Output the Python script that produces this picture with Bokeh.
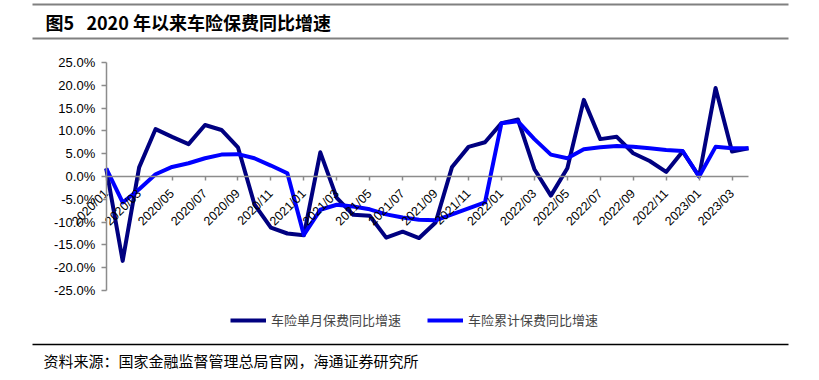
from bokeh.plotting import figure
from bokeh.models import (Range1d, FixedTicker, PrintfTickFormatter, Legend, LegendItem,
                          Label, Arrow)
from bokeh.embed import file_html
from bokeh.resources import INLINE
import math

# ---------------- data ----------------
months = ["2020/01", "2020/02", "2020/03", "2020/04", "2020/05", "2020/06", "2020/07", "2020/08",
          "2020/09", "2020/10", "2020/11", "2020/12", "2021/01", "2021/02", "2021/03", "2021/04",
          "2021/05", "2021/06", "2021/07", "2021/08", "2021/09", "2021/10", "2021/11", "2021/12",
          "2022/01", "2022/02", "2022/03", "2022/04", "2022/05", "2022/06", "2022/07", "2022/08",
          "2022/09", "2022/10", "2022/11", "2022/12", "2023/01", "2023/02", "2023/03", "2023/04"]

single = [1.8, -18.5, 2.0, 10.4, 8.7, 7.1, 11.3, 10.2, 6.4, -6.1, -11.2, -12.5, -12.9, 5.3,
          -4.7, -8.4, -8.6, -13.4, -12.1, -13.5, -10.1, 2.1, 6.5, 7.5, 11.7, 12.5, 1.6, -4.2,
          1.8, 16.8, 8.2, 8.7, 5.1, 3.4, 1.0, 5.5, 0.0, 19.4, 5.5, 6.2]

cumulative = [1.8, -5.7, -2.8, 0.5, 2.1, 2.9, 4.0, 4.8, 4.9, 4.0, 2.4, 0.7, -12.8, -7.3,
              -6.2, -6.6, -7.2, -8.3, -9.0, -9.5, -9.6, -8.3, -7.0, -5.7, 11.7, 12.1, 8.2, 4.8,
              4.0, 6.0, 6.4, 6.7, 6.5, 6.2, 5.8, 5.6, 0.0, 6.5, 6.2, 6.2]

series_names = ["车险单月保费同比增速", "车险累计保费同比增速"]
y_ticks = [-25, -20, -15, -10, -5, 0, 5, 10, 15, 20, 25]
title_text = "图5\u00a0\u00a0\u00a02020 年以来车险保费同比增速"
source_text = "资料来源：国家金融监督管理总局官网，海通证券研究所"

# ---------------- layout (pixels) ----------------
W, H = 819, 380
X0_PX, X1_PX = 105.7, 748.0      # pixel of first / last month
Y_TOP_PX, Y_BOT_PX = 62.0, 290.0  # pixel of top / bottom y tick

x = list(range(len(months)))
n = len(months) - 1
ymin, ymax = y_ticks[0], y_ticks[-1]
kx = (X1_PX - X0_PX) / n
ky = (Y_BOT_PX - Y_TOP_PX) / (ymax - ymin)
x_range = Range1d(-X0_PX / kx, n + (W - X1_PX) / kx)
y_range = Range1d(ymin - (H - Y_BOT_PX) / ky, ymax + Y_TOP_PX / ky)

p = figure(width=W, height=H, output_backend="svg", toolbar_location=None, title=None,
           x_range=x_range, y_range=y_range,
           min_border_left=0, min_border_right=0, min_border_top=0, min_border_bottom=0)
p.outline_line_color = None
p.grid.visible = False
p.background_fill_color = "white"
p.border_fill_color = "white"

axis_grey = "#8C8C8C"
label_font = "Liberation Sans"

# y axis (crosses at first month)
ya = p.yaxis[0]
ya.fixed_location = 0
ya.bounds = (ymin, ymax)
ya.ticker = FixedTicker(ticks=y_ticks)
ya.formatter = PrintfTickFormatter(format="%.1f%%")
ya.axis_line_color = axis_grey
ya.axis_line_width = 1.5
ya.major_tick_line_color = axis_grey
ya.major_tick_line_width = 1.5
ya.major_tick_out = 5
ya.major_tick_in = 0
ya.minor_tick_line_color = None
ya.major_label_standoff = 6
ya.major_label_text_font = label_font
ya.major_label_text_font_size = "13px"
ya.major_label_text_color = "black"

# x axis (crosses at zero)
xa = p.xaxis[0]
xa.fixed_location = 0
xa.bounds = (0, n)
tick_idx = x[::2]
xa.ticker = FixedTicker(ticks=tick_idx)
xa.major_label_overrides = {i: months[i] for i in tick_idx}
xa.major_label_orientation = math.pi / 4
xa.axis_line_color = axis_grey
xa.axis_line_width = 1.5
xa.major_tick_line_color = axis_grey
xa.major_tick_line_width = 1.5
xa.major_tick_out = 4
xa.major_tick_in = 0
xa.minor_tick_line_color = None
xa.major_label_standoff = 11
xa.major_label_text_font = label_font
xa.major_label_text_font_size = "12.5px"
xa.major_label_text_color = "black"

# lines
r1 = p.line(x, single, line_color="#000080", line_width=4, line_join="round")
r2 = p.line(x, cumulative, line_color="#0000FF", line_width=4, line_join="round")

legend = Legend(items=[LegendItem(label=series_names[0], renderers=[r1]),
                       LegendItem(label=series_names[1], renderers=[r2])],
                location=(230, H - 329), orientation="horizontal", spacing=26,
                glyph_width=36, glyph_height=16, label_height=16, label_standoff=5,
                label_text_font="Noto Sans CJK SC", label_text_font_size="13px",
                padding=0, margin=0, border_line_color=None, background_fill_alpha=0)
p.add_layout(legend)

# title, rules and source (screen units, y measured from the bottom)
p.add_layout(Label(x=45, y=H - 21, x_units="screen", y_units="screen", text=title_text,
                   text_font="Noto Sans CJK SC", text_font_size="18px",
                   text_font_style="bold", text_baseline="middle", text_color="black"))
for ry, rc, rw in [(4, "#808080", 2), (38, "#808080", 2), (344, "black", 1.3)]:
    p.add_layout(Arrow(x_start=32, y_start=H - ry, x_end=788, y_end=H - ry,
                       start_units="screen", end_units="screen", end=None,
                       line_color=rc, line_width=rw))
p.add_layout(Label(x=43, y=H - 360, x_units="screen", y_units="screen", text=source_text,
                   text_font="Noto Sans CJK SC", text_font_size="15px",
                   text_baseline="middle", text_color="black"))

open("out.html", "w").write(file_html(p, INLINE))
